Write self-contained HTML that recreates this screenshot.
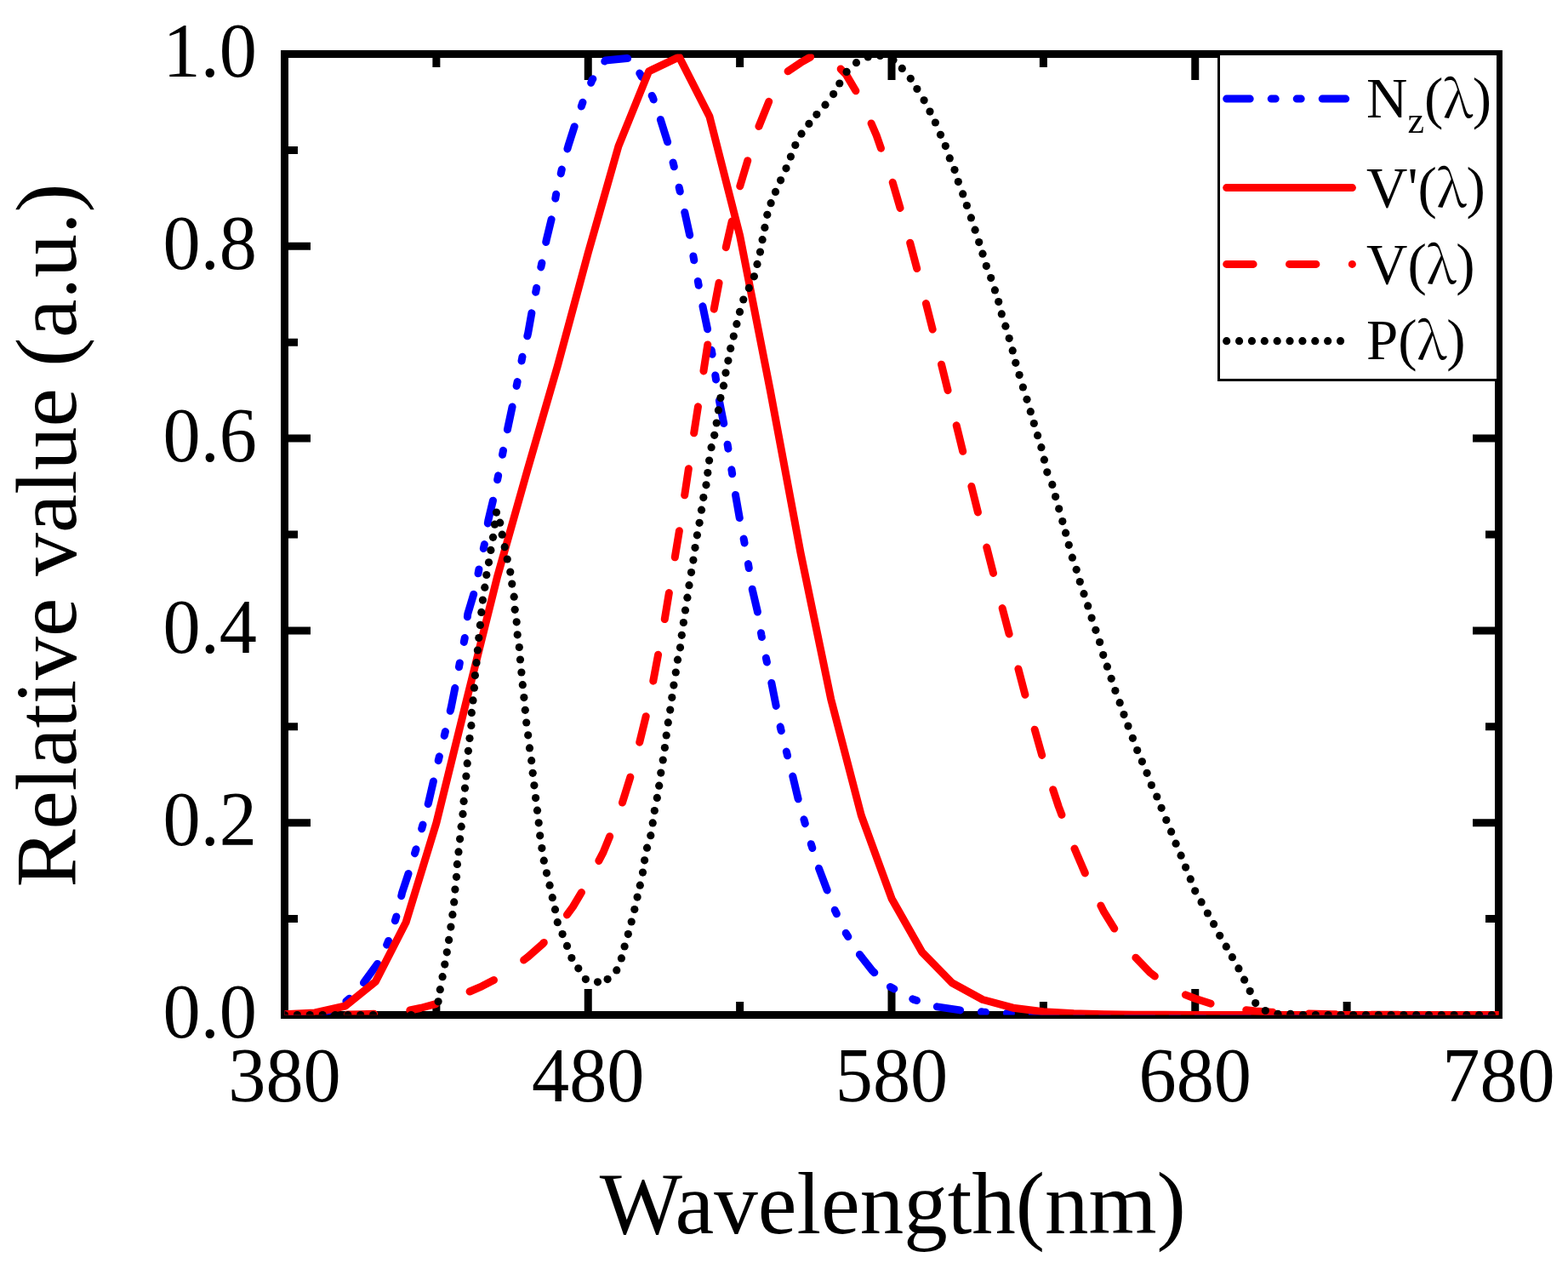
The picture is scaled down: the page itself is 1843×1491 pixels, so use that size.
<!DOCTYPE html><html><head><meta charset="utf-8"><title>Relative value vs wavelength</title><style>html,body{margin:0;padding:0;background:#fff;overflow:hidden}svg{display:block}</style></head><body>
<svg width="1843" height="1491" viewBox="0 0 1843 1491">
<defs><clipPath id="c"><rect x="334.5" y="63.5" width="1427" height="1129"/></clipPath><clipPath id="cl"><rect x="334.5" y="63.5" width="410.5" height="1129"/></clipPath><clipPath id="cr"><rect x="745" y="63.5" width="1016.5" height="1129"/></clipPath></defs>
<rect width="1843" height="1491" fill="#fff"/>
<rect x="334.5" y="63.5" width="1427" height="1129" fill="none" stroke="#000" stroke-width="9"/>
<path d="M334.50,1192.5V1162.0M334.50,63.5V94.0M512.88,1192.5V1177.0M512.88,63.5V79.0M691.25,1192.5V1162.0M691.25,63.5V94.0M869.62,1192.5V1177.0M869.62,63.5V79.0M1048.00,1192.5V1162.0M1048.00,63.5V94.0M1226.38,1192.5V1177.0M1226.38,63.5V79.0M1404.75,1192.5V1162.0M1404.75,63.5V94.0M1583.12,1192.5V1177.0M1583.12,63.5V79.0M1761.50,1192.5V1162.0M1761.50,63.5V94.0M334.5,1192.50H365.0M1761.5,1192.50H1731.0M334.5,1079.60H350.0M1761.5,1079.60H1746.0M334.5,966.70H365.0M1761.5,966.70H1731.0M334.5,853.80H350.0M1761.5,853.80H1746.0M334.5,740.90H365.0M1761.5,740.90H1731.0M334.5,628.00H350.0M1761.5,628.00H1746.0M334.5,515.10H365.0M1761.5,515.10H1731.0M334.5,402.20H350.0M1761.5,402.20H1746.0M334.5,289.30H365.0M1761.5,289.30H1731.0M334.5,176.40H350.0M1761.5,176.40H1746.0M334.5,63.50H365.0M1761.5,63.50H1731.0" stroke="#000" stroke-width="9" fill="none"/>
<text transform="translate(334.50,1293.5) scale(0.96,1)" font-family="Liberation Serif, Times New Roman, serif" font-size="92" text-anchor="middle">380</text>
<text transform="translate(691.25,1293.5) scale(0.96,1)" font-family="Liberation Serif, Times New Roman, serif" font-size="92" text-anchor="middle">480</text>
<text transform="translate(1048.00,1293.5) scale(0.96,1)" font-family="Liberation Serif, Times New Roman, serif" font-size="92" text-anchor="middle">580</text>
<text transform="translate(1404.75,1293.5) scale(0.96,1)" font-family="Liberation Serif, Times New Roman, serif" font-size="92" text-anchor="middle">680</text>
<text transform="translate(1761.50,1293.5) scale(0.96,1)" font-family="Liberation Serif, Times New Roman, serif" font-size="92" text-anchor="middle">780</text>
<text transform="translate(302,1218.90) scale(0.96,1)" font-family="Liberation Serif, Times New Roman, serif" font-size="92" text-anchor="end">0.0</text>
<text transform="translate(302,993.10) scale(0.96,1)" font-family="Liberation Serif, Times New Roman, serif" font-size="92" text-anchor="end">0.2</text>
<text transform="translate(302,767.30) scale(0.96,1)" font-family="Liberation Serif, Times New Roman, serif" font-size="92" text-anchor="end">0.4</text>
<text transform="translate(302,541.50) scale(0.96,1)" font-family="Liberation Serif, Times New Roman, serif" font-size="92" text-anchor="end">0.6</text>
<text transform="translate(302,315.70) scale(0.96,1)" font-family="Liberation Serif, Times New Roman, serif" font-size="92" text-anchor="end">0.8</text>
<text transform="translate(302,89.90) scale(0.96,1)" font-family="Liberation Serif, Times New Roman, serif" font-size="92" text-anchor="end">1.0</text>
<text transform="translate(1049.3,1448.5) scale(0.99,1)" font-family="Liberation Serif, Times New Roman, serif" font-size="104" text-anchor="middle">Wavelength(nm)</text>
<text transform="translate(89,629) rotate(-90)" font-family="Liberation Serif, Times New Roman, serif" font-size="102" text-anchor="middle">Relative value (a.u.)</text>
<g fill="none" stroke-width="9" stroke-linejoin="round" stroke-linecap="round">
<polyline clip-path="url(#cl)" points="334.50,1192.00 370.00,1191.00 395.00,1186.50 411.60,1172.50 428.00,1154.00 447.40,1127.40 457.50,1103.30 466.50,1075.00 472.60,1048.90 481.60,1021.80 489.70,995.60 497.70,966.40 503.80,942.30 510.80,912.00 530.20,831.40 536.20,801.30 540.70,777.00 546.80,747.00 549.80,721.30 558.80,691.20 563.30,667.00 570.00,636.90 573.90,611.20 580.80,582.60 586.00,557.00 592.00,526.80 597.10,501.50 603.20,472.80 608.60,446.30 614.60,416.10 620.70,391.30 625.80,362.70 630.90,337.00 637.00,308.40 642.40,281.20 649.00,254.10 653.90,227.00 660.50,198.30 668.00,171.10 676.20,145.50 685.20,119.60 696.00,94.10 711.50,71.00 737.00,68.50 741.00,69.20 752.40,87.00 767.40,114.70 776.20,140.00 785.20,168.60 791.90,194.20 798.80,222.90 804.90,250.00 810.90,277.20 815.40,303.70 820.80,333.00 826.00,360.20 832.00,388.80 837.10,416.00 841.10,443.10 845.60,471.80 851.00,498.90 855.60,525.20 860.20,553.90 864.70,582.60 869.20,608.20 874.60,635.40 879.80,664.60 884.30,692.70 890.30,718.30 894.90,746.10 900.90,775.60 906.90,802.80 912.00,828.40 917.50,855.60 925.00,885.70 931.80,912.20 938.20,939.00 945.50,964.80 953.60,992.70 962.20,1019.50 971.90,1045.20 981.50,1069.90 994.40,1096.70 1009.40,1120.30 1025.50,1140.70 1045.50,1159.00 1073.80,1174.40 1099.60,1182.60 1128.50,1186.90 1155.40,1189.00 1185.40,1190.50 1220.00,1192.00 1250.00,1192.50 1761.50,1192.50" stroke="#0000ff" stroke-dasharray="27.5 25 5 25 5 25" stroke-dashoffset="6"/>
<polyline clip-path="url(#cr)" points="334.50,1192.00 370.00,1191.00 395.00,1186.50 411.60,1172.50 428.00,1154.00 447.40,1127.40 457.50,1103.30 466.50,1075.00 472.60,1048.90 481.60,1021.80 489.70,995.60 497.70,966.40 503.80,942.30 510.80,912.00 530.20,831.40 536.20,801.30 540.70,777.00 546.80,747.00 549.80,721.30 558.80,691.20 563.30,667.00 570.00,636.90 573.90,611.20 580.80,582.60 586.00,557.00 592.00,526.80 597.10,501.50 603.20,472.80 608.60,446.30 614.60,416.10 620.70,391.30 625.80,362.70 630.90,337.00 637.00,308.40 642.40,281.20 649.00,254.10 653.90,227.00 660.50,198.30 668.00,171.10 676.20,145.50 685.20,119.60 696.00,94.10 711.50,71.00 737.00,68.50 741.00,69.20 752.40,87.00 767.40,114.70 776.20,140.00 785.20,168.60 791.90,194.20 798.80,222.90 804.90,250.00 810.90,277.20 815.40,303.70 820.80,333.00 826.00,360.20 832.00,388.80 837.10,416.00 841.10,443.10 845.60,471.80 851.00,498.90 855.60,525.20 860.20,553.90 864.70,582.60 869.20,608.20 874.60,635.40 879.80,664.60 884.30,692.70 890.30,718.30 894.90,746.10 900.90,775.60 906.90,802.80 912.00,828.40 917.50,855.60 925.00,885.70 931.80,912.20 938.20,939.00 945.50,964.80 953.60,992.70 962.20,1019.50 971.90,1045.20 981.50,1069.90 994.40,1096.70 1009.40,1120.30 1025.50,1140.70 1045.50,1159.00 1073.80,1174.40 1099.60,1182.60 1128.50,1186.90 1155.40,1189.00 1185.40,1190.50 1220.00,1192.00 1250.00,1192.50 1761.50,1192.50" stroke="#0000ff" stroke-dasharray="27.5 25 5 25 5 25" stroke-dashoffset="7.5"/>
<polyline clip-path="url(#c)" points="334.50,1191.84 370.18,1190.01 405.85,1182.01 441.52,1153.17 477.20,1083.44 512.88,966.93 548.55,822.08 584.23,678.80 619.90,552.36 655.58,429.30 691.25,297.20 726.92,171.88 762.60,83.82 798.27,66.89 833.95,136.88 869.62,276.88 905.30,458.65 940.98,649.45 976.65,821.28 1012.32,958.12 1048.00,1055.67 1083.67,1118.55 1119.35,1155.07 1155.03,1174.52 1190.70,1184.18 1226.38,1188.73 1262.05,1190.81 1297.72,1191.74 1333.40,1192.15 1369.08,1192.33 1404.75,1192.42 1440.42,1192.46 1476.10,1192.48 1511.77,1192.49 1547.45,1192.49 1583.12,1192.50 1618.80,1192.50 1654.47,1192.50 1690.15,1192.50 1725.83,1192.50 1761.50,1192.50" stroke="#ff0000"/>
<polyline clip-path="url(#c)" points="334.50,1192.46 352.34,1192.43 370.18,1192.36 388.01,1192.26 405.85,1192.05 423.69,1191.78 441.52,1191.13 459.36,1190.04 477.20,1187.98 495.04,1184.26 512.88,1179.40 530.71,1173.49 548.55,1166.53 566.39,1158.86 584.23,1149.60 602.06,1138.31 619.90,1124.76 637.74,1109.07 655.58,1089.78 673.41,1065.37 691.25,1035.55 709.09,1001.36 726.92,957.65 744.76,900.54 762.60,827.83 780.44,732.66 798.27,624.61 816.11,505.84 833.95,390.91 851.79,296.98 869.62,219.30 887.46,159.58 905.30,115.43 923.14,85.74 940.98,73.66 958.81,63.50 976.65,69.14 994.49,87.66 1012.32,117.69 1030.16,159.01 1048.00,210.27 1065.84,270.90 1083.67,337.85 1101.51,407.96 1119.35,480.10 1137.19,552.58 1155.03,624.61 1172.86,694.39 1190.70,762.35 1208.54,830.09 1226.38,893.32 1244.21,947.51 1262.05,994.92 1279.89,1036.47 1297.72,1071.70 1315.56,1100.37 1333.40,1123.63 1351.24,1142.17 1369.08,1156.37 1386.91,1166.31 1404.75,1173.31 1422.59,1179.04 1440.42,1183.23 1458.26,1186.04 1476.10,1187.87 1493.94,1189.19 1511.77,1190.14 1529.61,1190.82 1547.45,1191.32 1565.29,1191.66 1583.12,1191.91 1600.96,1192.09 1618.80,1192.22 1636.64,1192.31 1654.47,1192.36 1672.31,1192.40 1690.15,1192.43 1707.99,1192.45 1725.83,1192.47 1743.66,1192.48 1761.50,1192.48" stroke="#ff0000" stroke-dasharray="31.4 42.4" stroke-dashoffset="0"/>
</g>
<g clip-path="url(#c)" fill="#000"><circle cx="334.5" cy="1192.5" r="4.6"/><circle cx="349.4" cy="1192.5" r="4.6"/><circle cx="364.2" cy="1192.5" r="4.6"/><circle cx="379.1" cy="1192.5" r="4.6"/><circle cx="394.0" cy="1192.5" r="4.6"/><circle cx="408.9" cy="1192.5" r="4.6"/><circle cx="423.7" cy="1192.5" r="4.6"/><circle cx="438.6" cy="1192.5" r="4.6"/><circle cx="453.5" cy="1192.5" r="4.6"/><circle cx="468.3" cy="1192.5" r="4.6"/><circle cx="483.2" cy="1192.5" r="4.6"/><circle cx="498.1" cy="1192.5" r="4.6"/><circle cx="512.9" cy="1192.5" r="4.6"/><circle cx="515.1" cy="1176.8" r="4.6"/><circle cx="517.3" cy="1162.7" r="4.6"/><circle cx="520.1" cy="1147.7" r="4.6"/><circle cx="522.8" cy="1133.1" r="4.6"/><circle cx="525.3" cy="1118.8" r="4.6"/><circle cx="527.6" cy="1104.4" r="4.6"/><circle cx="529.9" cy="1089.1" r="4.6"/><circle cx="531.9" cy="1074.7" r="4.6"/><circle cx="533.7" cy="1059.9" r="4.6"/><circle cx="534.9" cy="1045.1" r="4.6"/><circle cx="536.5" cy="1030.3" r="4.6"/><circle cx="537.4" cy="1015.4" r="4.6"/><circle cx="539.0" cy="1000.9" r="4.6"/><circle cx="540.6" cy="985.8" r="4.6"/><circle cx="542.2" cy="971.2" r="4.6"/><circle cx="544.0" cy="956.4" r="4.6"/><circle cx="545.1" cy="941.4" r="4.6"/><circle cx="546.5" cy="926.1" r="4.6"/><circle cx="547.9" cy="912.0" r="4.6"/><circle cx="549.2" cy="896.9" r="4.6"/><circle cx="550.4" cy="882.3" r="4.6"/><circle cx="552.0" cy="867.5" r="4.6"/><circle cx="553.9" cy="852.4" r="4.6"/><circle cx="554.3" cy="837.4" r="4.6"/><circle cx="556.0" cy="822.9" r="4.6"/><circle cx="557.4" cy="808.2" r="4.6"/><circle cx="558.4" cy="793.6" r="4.6"/><circle cx="560.0" cy="778.7" r="4.6"/><circle cx="561.4" cy="764.0" r="4.6"/><circle cx="562.8" cy="749.5" r="4.6"/><circle cx="564.4" cy="734.4" r="4.6"/><circle cx="565.8" cy="719.4" r="4.6"/><circle cx="567.4" cy="705.1" r="4.6"/><circle cx="569.8" cy="690.2" r="4.6"/><circle cx="571.8" cy="675.5" r="4.6"/><circle cx="574.5" cy="660.8" r="4.6"/><circle cx="576.9" cy="646.4" r="4.6"/><circle cx="579.5" cy="631.3" r="4.6"/><circle cx="581.5" cy="616.2" r="4.6"/><circle cx="583.5" cy="602.1" r="4.6"/><circle cx="587.7" cy="614.2" r="4.6"/><circle cx="590.2" cy="628.2" r="4.6"/><circle cx="593.2" cy="642.7" r="4.6"/><circle cx="596.2" cy="657.0" r="4.6"/><circle cx="599.8" cy="672.1" r="4.6"/><circle cx="601.8" cy="686.1" r="4.6"/><circle cx="604.2" cy="701.2" r="4.6"/><circle cx="605.2" cy="716.3" r="4.6"/><circle cx="607.2" cy="730.8" r="4.6"/><circle cx="608.2" cy="745.8" r="4.6"/><circle cx="610.3" cy="760.5" r="4.6"/><circle cx="611.5" cy="775.0" r="4.6"/><circle cx="612.9" cy="790.0" r="4.6"/><circle cx="614.3" cy="804.7" r="4.6"/><circle cx="615.9" cy="819.6" r="4.6"/><circle cx="617.3" cy="834.3" r="4.6"/><circle cx="618.7" cy="849.0" r="4.6"/><circle cx="620.7" cy="863.8" r="4.6"/><circle cx="622.5" cy="878.9" r="4.6"/><circle cx="624.7" cy="893.7" r="4.6"/><circle cx="626.2" cy="908.3" r="4.6"/><circle cx="627.9" cy="922.8" r="4.6"/><circle cx="629.6" cy="937.6" r="4.6"/><circle cx="631.5" cy="952.2" r="4.6"/><circle cx="633.2" cy="966.8" r="4.6"/><circle cx="634.7" cy="981.8" r="4.6"/><circle cx="636.9" cy="996.6" r="4.6"/><circle cx="639.3" cy="1011.2" r="4.6"/><circle cx="642.5" cy="1025.8" r="4.6"/><circle cx="646.1" cy="1040.2" r="4.6"/><circle cx="649.3" cy="1054.7" r="4.6"/><circle cx="652.5" cy="1068.7" r="4.6"/><circle cx="655.3" cy="1083.7" r="4.6"/><circle cx="661.1" cy="1097.6" r="4.6"/><circle cx="666.5" cy="1111.4" r="4.6"/><circle cx="671.9" cy="1125.5" r="4.6"/><circle cx="679.8" cy="1137.8" r="4.6"/><circle cx="688.4" cy="1150.6" r="4.6"/><circle cx="702.5" cy="1153.8" r="4.6"/><circle cx="714.1" cy="1150.6" r="4.6"/><circle cx="724.8" cy="1139.9" r="4.6"/><circle cx="730.4" cy="1125.9" r="4.6"/><circle cx="734.1" cy="1112.0" r="4.6"/><circle cx="738.3" cy="1097.6" r="4.6"/><circle cx="742.2" cy="1083.0" r="4.6"/><circle cx="745.8" cy="1068.5" r="4.6"/><circle cx="749.1" cy="1054.1" r="4.6"/><circle cx="752.3" cy="1040.2" r="4.6"/><circle cx="755.5" cy="1025.1" r="4.6"/><circle cx="757.6" cy="1010.8" r="4.6"/><circle cx="760.5" cy="996.2" r="4.6"/><circle cx="764.8" cy="981.7" r="4.6"/><circle cx="767.2" cy="966.9" r="4.6"/><circle cx="769.3" cy="952.5" r="4.6"/><circle cx="772.3" cy="937.4" r="4.6"/><circle cx="774.7" cy="923.2" r="4.6"/><circle cx="776.8" cy="908.1" r="4.6"/><circle cx="779.2" cy="893.0" r="4.6"/><circle cx="781.4" cy="878.5" r="4.6"/><circle cx="783.2" cy="864.0" r="4.6"/><circle cx="785.3" cy="848.9" r="4.6"/><circle cx="787.7" cy="834.1" r="4.6"/><circle cx="789.8" cy="819.6" r="4.6"/><circle cx="791.9" cy="805.1" r="4.6"/><circle cx="794.3" cy="790.0" r="4.6"/><circle cx="796.5" cy="775.2" r="4.6"/><circle cx="799.5" cy="760.8" r="4.6"/><circle cx="801.3" cy="746.3" r="4.6"/><circle cx="803.4" cy="731.5" r="4.6"/><circle cx="805.5" cy="717.0" r="4.6"/><circle cx="807.9" cy="702.2" r="4.6"/><circle cx="810.0" cy="687.7" r="4.6"/><circle cx="812.5" cy="672.6" r="4.6"/><circle cx="814.9" cy="658.1" r="4.6"/><circle cx="817.0" cy="643.6" r="4.6"/><circle cx="819.4" cy="628.8" r="4.6"/><circle cx="822.1" cy="614.3" r="4.6"/><circle cx="824.5" cy="599.2" r="4.6"/><circle cx="826.8" cy="584.6" r="4.6"/><circle cx="830.0" cy="569.8" r="4.6"/><circle cx="831.8" cy="555.5" r="4.6"/><circle cx="833.6" cy="541.1" r="4.6"/><circle cx="836.1" cy="525.7" r="4.6"/><circle cx="839.7" cy="511.3" r="4.6"/><circle cx="842.2" cy="497.0" r="4.6"/><circle cx="844.4" cy="481.9" r="4.6"/><circle cx="846.9" cy="467.6" r="4.6"/><circle cx="850.5" cy="453.2" r="4.6"/><circle cx="853.0" cy="438.1" r="4.6"/><circle cx="855.9" cy="423.8" r="4.6"/><circle cx="858.7" cy="409.4" r="4.6"/><circle cx="862.3" cy="395.1" r="4.6"/><circle cx="865.9" cy="380.7" r="4.6"/><circle cx="869.5" cy="366.4" r="4.6"/><circle cx="873.8" cy="352.0" r="4.6"/><circle cx="880.3" cy="338.4" r="4.6"/><circle cx="886.4" cy="324.8" r="4.6"/><circle cx="890.0" cy="310.4" r="4.6"/><circle cx="893.5" cy="296.1" r="4.6"/><circle cx="896.1" cy="281.7" r="4.6"/><circle cx="898.9" cy="267.4" r="4.6"/><circle cx="901.8" cy="252.3" r="4.6"/><circle cx="906.1" cy="238.7" r="4.6"/><circle cx="911.5" cy="225.4" r="4.6"/><circle cx="917.6" cy="211.8" r="4.6"/><circle cx="924.0" cy="197.8" r="4.6"/><circle cx="929.4" cy="184.1" r="4.6"/><circle cx="934.8" cy="170.5" r="4.6"/><circle cx="942.0" cy="157.2" r="4.6"/><circle cx="950.9" cy="145.4" r="4.6"/><circle cx="959.9" cy="134.6" r="4.6"/><circle cx="970.0" cy="123.2" r="4.6"/><circle cx="979.6" cy="110.6" r="4.6"/><circle cx="986.8" cy="98.0" r="4.6"/><circle cx="995.1" cy="84.4" r="4.6"/><circle cx="1006.5" cy="73.7" r="4.6"/><circle cx="1020.2" cy="67.0" r="4.6"/><circle cx="1034.5" cy="65.5" r="4.6"/><circle cx="1050.0" cy="70.6" r="4.6"/><circle cx="1060.3" cy="80.4" r="4.6"/><circle cx="1070.3" cy="92.3" r="4.6"/><circle cx="1077.9" cy="104.5" r="4.6"/><circle cx="1086.1" cy="117.8" r="4.6"/><circle cx="1093.0" cy="131.1" r="4.6"/><circle cx="1099.4" cy="144.0" r="4.6"/><circle cx="1105.5" cy="158.3" r="4.6"/><circle cx="1111.3" cy="171.6" r="4.6"/><circle cx="1116.3" cy="185.9" r="4.6"/><circle cx="1122.0" cy="199.6" r="4.6"/><circle cx="1126.3" cy="213.6" r="4.6"/><circle cx="1131.7" cy="227.9" r="4.6"/><circle cx="1136.4" cy="241.5" r="4.6"/><circle cx="1141.4" cy="255.9" r="4.6"/><circle cx="1146.1" cy="270.2" r="4.6"/><circle cx="1150.7" cy="284.6" r="4.6"/><circle cx="1155.0" cy="298.2" r="4.6"/><circle cx="1159.3" cy="312.6" r="4.6"/><circle cx="1164.7" cy="326.6" r="4.6"/><circle cx="1169.4" cy="340.9" r="4.6"/><circle cx="1173.7" cy="354.6" r="4.6"/><circle cx="1177.3" cy="368.9" r="4.6"/><circle cx="1181.9" cy="383.2" r="4.6"/><circle cx="1186.2" cy="397.6" r="4.6"/><circle cx="1190.2" cy="411.9" r="4.6"/><circle cx="1193.8" cy="426.3" r="4.6"/><circle cx="1198.1" cy="440.6" r="4.6"/><circle cx="1202.4" cy="455.0" r="4.6"/><circle cx="1207.0" cy="469.3" r="4.6"/><circle cx="1211.3" cy="483.7" r="4.6"/><circle cx="1215.3" cy="497.5" r="4.6"/><circle cx="1219.6" cy="511.7" r="4.6"/><circle cx="1223.9" cy="525.7" r="4.6"/><circle cx="1227.4" cy="540.2" r="4.6"/><circle cx="1230.8" cy="554.8" r="4.6"/><circle cx="1236.8" cy="569.4" r="4.6"/><circle cx="1240.6" cy="583.6" r="4.6"/><circle cx="1244.7" cy="597.8" r="4.6"/><circle cx="1248.8" cy="612.6" r="4.6"/><circle cx="1252.6" cy="626.2" r="4.6"/><circle cx="1256.3" cy="640.3" r="4.6"/><circle cx="1260.4" cy="655.2" r="4.6"/><circle cx="1265.2" cy="669.3" r="4.6"/><circle cx="1269.3" cy="683.5" r="4.6"/><circle cx="1274.0" cy="697.7" r="4.6"/><circle cx="1278.7" cy="711.9" r="4.6"/><circle cx="1283.1" cy="726.1" r="4.6"/><circle cx="1287.9" cy="740.3" r="4.6"/><circle cx="1292.6" cy="754.5" r="4.6"/><circle cx="1296.7" cy="769.6" r="4.6"/><circle cx="1301.4" cy="783.2" r="4.6"/><circle cx="1306.2" cy="797.3" r="4.6"/><circle cx="1310.9" cy="811.5" r="4.6"/><circle cx="1316.2" cy="825.7" r="4.6"/><circle cx="1321.0" cy="839.6" r="4.6"/><circle cx="1326.0" cy="853.1" r="4.6"/><circle cx="1331.4" cy="867.3" r="4.6"/><circle cx="1336.7" cy="881.5" r="4.6"/><circle cx="1342.4" cy="894.8" r="4.6"/><circle cx="1348.1" cy="908.3" r="4.6"/><circle cx="1353.4" cy="922.5" r="4.6"/><circle cx="1359.8" cy="936.0" r="4.6"/><circle cx="1365.1" cy="949.3" r="4.6"/><circle cx="1370.8" cy="963.5" r="4.6"/><circle cx="1376.6" cy="977.2" r="4.6"/><circle cx="1382.1" cy="991.2" r="4.6"/><circle cx="1388.1" cy="1005.2" r="4.6"/><circle cx="1393.6" cy="1019.1" r="4.6"/><circle cx="1399.3" cy="1032.9" r="4.6"/><circle cx="1404.7" cy="1046.8" r="4.6"/><circle cx="1412.1" cy="1059.9" r="4.6"/><circle cx="1419.4" cy="1073.0" r="4.6"/><circle cx="1426.6" cy="1085.7" r="4.6"/><circle cx="1433.7" cy="1099.3" r="4.6"/><circle cx="1441.3" cy="1112.2" r="4.6"/><circle cx="1448.4" cy="1124.7" r="4.6"/><circle cx="1455.9" cy="1137.9" r="4.6"/><circle cx="1462.6" cy="1151.2" r="4.6"/><circle cx="1469.2" cy="1164.6" r="4.6"/><circle cx="1475.7" cy="1178.6" r="4.6"/><circle cx="1487.3" cy="1187.5" r="4.6"/><circle cx="1502.0" cy="1191.3" r="4.6"/><circle cx="1516.8" cy="1191.3" r="4.6"/><circle cx="1531.6" cy="1192.5" r="4.6"/><circle cx="1546.4" cy="1192.5" r="4.6"/><circle cx="1561.2" cy="1192.5" r="4.6"/><circle cx="1576.0" cy="1192.5" r="4.6"/><circle cx="1590.7" cy="1192.5" r="4.6"/><circle cx="1605.5" cy="1192.5" r="4.6"/><circle cx="1620.3" cy="1192.5" r="4.6"/><circle cx="1635.1" cy="1192.5" r="4.6"/><circle cx="1649.9" cy="1192.5" r="4.6"/><circle cx="1664.7" cy="1192.5" r="4.6"/><circle cx="1679.5" cy="1192.5" r="4.6"/><circle cx="1694.3" cy="1192.5" r="4.6"/><circle cx="1709.1" cy="1192.5" r="4.6"/><circle cx="1723.8" cy="1192.5" r="4.6"/><circle cx="1738.6" cy="1192.5" r="4.6"/><circle cx="1753.4" cy="1192.5" r="4.6"/></g>
<rect x="1432.5" y="63.5" width="328" height="383" fill="#fff" stroke="#000" stroke-width="3"/>
<g fill="none" stroke-width="9" stroke-linecap="round">
<path d="M1441.7,116.1H1589.4" stroke="#0000ff" stroke-dasharray="27.5 25 5 25 5 25"/>
<path d="M1441.7,220.6H1589.4" stroke="#ff0000"/>
<path d="M1441.7,310.4H1589.4" stroke="#ff0000" stroke-dasharray="31.4 42.4"/>
</g>
<g fill="#000"><circle cx="1441.70" cy="400.7" r="4.6"/><circle cx="1456.57" cy="400.7" r="4.6"/><circle cx="1471.44" cy="400.7" r="4.6"/><circle cx="1486.31" cy="400.7" r="4.6"/><circle cx="1501.18" cy="400.7" r="4.6"/><circle cx="1516.05" cy="400.7" r="4.6"/><circle cx="1530.92" cy="400.7" r="4.6"/><circle cx="1545.79" cy="400.7" r="4.6"/><circle cx="1560.66" cy="400.7" r="4.6"/><circle cx="1575.53" cy="400.7" r="4.6"/></g>
<text x="1606" y="138" font-family="Liberation Serif, Times New Roman, serif" font-size="67">N<tspan font-size="44" dy="18">z</tspan><tspan dy="-18">(<tspan font-family="Noto Serif CJK SC, Liberation Serif, serif" font-size="60">λ</tspan>)</tspan></text>
<text x="1606" y="242.5" font-family="Liberation Serif, Times New Roman, serif" font-size="67">V'(<tspan font-family="Noto Serif CJK SC, Liberation Serif, serif" font-size="60">λ</tspan>)</text>
<text x="1606" y="332.5" font-family="Liberation Serif, Times New Roman, serif" font-size="67">V(<tspan font-family="Noto Serif CJK SC, Liberation Serif, serif" font-size="60">λ</tspan>)</text>
<text x="1606" y="422" font-family="Liberation Serif, Times New Roman, serif" font-size="67">P(<tspan font-family="Noto Serif CJK SC, Liberation Serif, serif" font-size="60">λ</tspan>)</text>
</svg></body></html>
